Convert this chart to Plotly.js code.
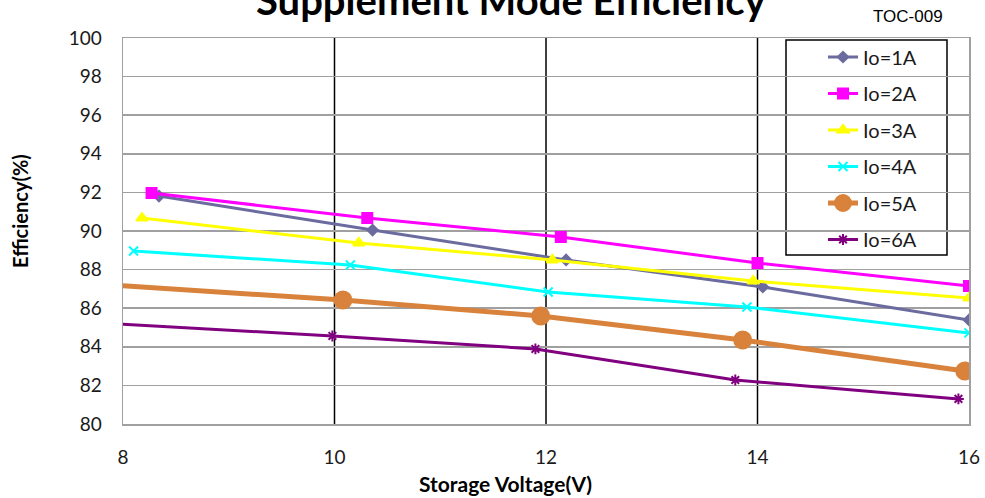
<!DOCTYPE html>
<html>
<head>
<meta charset="utf-8">
<script src="https://cdn.plot.ly/plotly-3.0.1.min.js"></script>
<style>html,body{margin:0;padding:0;background:#fff;}#chart{width:985px;height:498px;}</style>
</head>
<body>
<div id="chart"></div>
<script>
const seriesNames = ["Io=1A", "Io=2A", "Io=3A", "Io=4A", "Io=5A", "Io=6A"];
const x1 = [8.34, 10.36, 12.19, 14.05, 16.0];
const y1 = [91.81, 90.05, 88.50, 87.10, 85.39];
const x2 = [8.27, 10.31, 12.14, 14.0, 16.0];
const y2 = [91.97, 90.67, 89.69, 88.34, 87.15];
const x3 = [8.18, 10.23, 12.06, 13.96, 16.0];
const y3 = [90.67, 89.38, 88.50, 87.41, 86.53];
const x4 = [8.10, 10.15, 12.02, 13.90, 16.0];
const y4 = [88.96, 88.24, 86.84, 86.06, 84.72];
const x5 = [7.9, 10.08, 11.95, 13.86, 15.96];
const y5 = [87.2, 86.42, 85.60, 84.35, 82.75];
const x6 = [7.9, 9.98, 11.90, 13.79, 15.90];
const y6 = [85.2, 84.56, 83.89, 82.28, 81.30];
const xTicks = [8, 10, 12, 14, 16];
const yTicks = [80, 82, 84, 86, 88, 90, 92, 94, 96, 98, 100];

const styles = [
  {color: "#6b6b9f", symbol: "diamond", size: 8, width: 3},
  {color: "#ff00ff", symbol: "square", size: 10, width: 3},
  {color: "#ffff00", symbol: "triangle-up", size: 10, width: 3},
  {color: "#00ffff", symbol: "x-thin-open", size: 9, width: 3},
  {color: "#d9823b", symbol: "circle", size: 17, width: 5},
  {color: "#800080", symbol: "asterisk-open", size: 9, width: 3}
];
const xs = [x1, x2, x3, x4, x5, x6];
const ys = [y1, y2, y3, y4, y5, y6];

const traces = seriesNames.map((n, i) => ({
  type: "scatter", mode: "lines+markers", name: n, x: xs[i], y: ys[i],
  legendgroup: "g" + i,
  line: {color: styles[i].color, width: styles[i].width},
  marker: {color: styles[i].color, symbol: styles[i].symbol, size: styles[i].size,
           line: {color: styles[i].color, width: 2}},
  cliponaxis: true
}));

const shapes = [10, 12, 14].map(v => ({
  type: "line", xref: "x", yref: "paper", x0: v, x1: v, y0: 0, y1: 1,
  line: {color: "#000", width: 1.5}, layer: "below"
}));
shapes.push({type: "rect", xref: "paper", yref: "paper",
  x0: (786 - 123) / 846, x1: (947 - 123) / 846, y0: (424 - 255) / 386, y1: (424 - 40) / 386,
  line: {color: "#000", width: 1.5}, fillcolor: "#fff", layer: "below"});

const layout = {
  width: 985, height: 498,
  margin: {l: 123, r: 16, t: 38, b: 74},
  paper_bgcolor: "#fff", plot_bgcolor: "#fff",
  font: {family: "Lato, 'Open Sans', sans-serif", color: "#1a1a1a", size: 19},
  showlegend: true,
  legend: {x: (823 - 123) / 846, y: (424 - 37.5) / 386, xanchor: "left", yanchor: "top",
    bgcolor: "rgba(0,0,0,0)", borderwidth: 0, font: {size: 20, family: "Lato, sans-serif"},
    traceorder: "grouped", tracegroupgap: 7.5},
  xaxis: {range: [8, 16], tickvals: xTicks, ticktext: xTicks.map(String), showgrid: false,
    showline: true, mirror: true, linecolor: "#a0a0a0", linewidth: 1.5, ticks: "",
    zeroline: false, ticklabelstandoff: 16, fixedrange: true},
  yaxis: {range: [80, 100], tickvals: yTicks, ticktext: yTicks.map(String), showgrid: true,
    gridcolor: "#a0a0a0", gridwidth: 1.5, showline: true, mirror: true, linecolor: "#a0a0a0",
    linewidth: 1.5, ticks: "", zeroline: false, ticklabelstandoff: 16, fixedrange: true},
  shapes: shapes,
  annotations: [
    {text: "<b>Supplement Mode Efficiency</b>", xref: "paper", yref: "paper", x: (511 - 123) / 846,
     y: (424 - 0) / 386, xanchor: "center", yanchor: "middle", showarrow: false,
     font: {size: 40, family: "Lato, sans-serif", color: "#000"}},
    {text: "TOC-009", xref: "paper", yref: "paper", x: (908 - 123) / 846, y: (424 - 16) / 386,
     xanchor: "center", yanchor: "middle", showarrow: false,
     font: {size: 17, family: "'Liberation Sans', Arial, sans-serif", color: "#000"}},
    {text: "<b>Storage Voltage(V)</b>", xref: "paper", yref: "paper", x: (505 - 123) / 846,
     y: (424 - 483) / 386, xanchor: "center", yanchor: "middle", showarrow: false,
     font: {size: 21, family: "Lato, sans-serif", color: "#000"}},
    {text: "<b>Efficiency(%)</b>", xref: "paper", yref: "paper", x: (20 - 123) / 846,
     y: (424 - 211) / 386, xanchor: "center", yanchor: "middle", showarrow: false, textangle: -90,
     font: {size: 20, family: "Lato, sans-serif", color: "#000"}}
  ]
};
Plotly.newPlot("chart", traces, layout, {displayModeBar: false, staticPlot: true});
</script>
</body>
</html>
